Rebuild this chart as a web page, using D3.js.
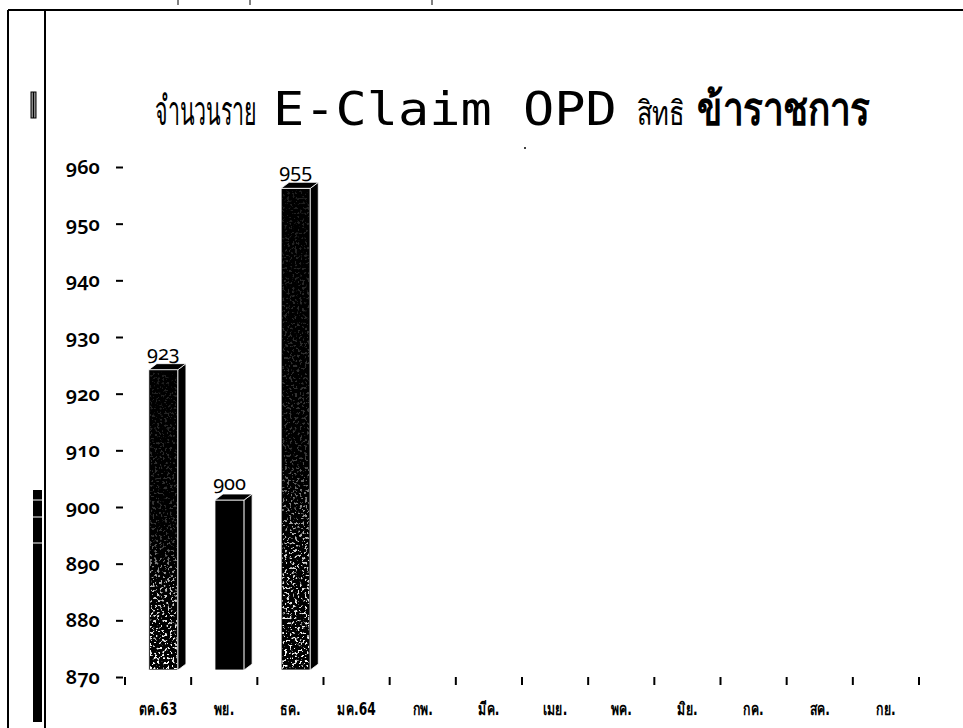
<!DOCTYPE html>
<html><head><meta charset="utf-8">
<script src="https://cdn.jsdelivr.net/npm/d3@7"></script>
<style>
html,body{margin:0;padding:0;background:#fff;}
svg{display:block;}
</style></head><body>
<svg id="chart" width="963" height="728"></svg>
<script>
// Monthly OPD E-Claim counts, fiscal year Oct 2020 – Sep 2021
const months = ["ตค.63","พย.","ธค.","มค.64","กพ.","มีค.","เมย.","พค.","มิย.","กค.","สค.","กย."];
const claims = [923, 900, 955, null, null, null, null, null, null, null, null, null];
const yTicks = [870, 880, 890, 900, 910, 920, 930, 940, 950, 960];

const svg = d3.select("#chart");
const defs = svg.append("defs");
const thaiFont = "Tahoma, 'DejaVu Sans', sans-serif";

// grainy speckle used on the printed columns
const f = defs.append("filter").attr("id","speckle").attr("x",0).attr("y",0).attr("width",1).attr("height",1);
f.append("feTurbulence").attr("type","fractalNoise").attr("baseFrequency","0.4").attr("numOctaves",2).attr("seed",7).attr("result","n");
f.append("feColorMatrix").attr("in","n").attr("type","matrix")
  .attr("values","0 0 0 0 1  0 0 0 0 1  0 0 0 0 1  0 0 0 12 -6.9").attr("result","w");
f.append("feComposite").attr("in","w").attr("in2","SourceGraphic").attr("operator","in");
const grad = defs.append("linearGradient").attr("id","fade").attr("x1",0).attr("y1",0).attr("x2",0).attr("y2",1);
grad.append("stop").attr("offset","0").attr("stop-color","#fff").attr("stop-opacity",0.12);
grad.append("stop").attr("offset","0.55").attr("stop-color","#fff").attr("stop-opacity",0.22);
grad.append("stop").attr("offset","0.75").attr("stop-color","#fff").attr("stop-opacity",0.8);
grad.append("stop").attr("offset","1").attr("stop-color","#fff").attr("stop-opacity",1);
const mask = defs.append("mask").attr("id","fadeMask").attr("maskContentUnits","objectBoundingBox");
mask.append("rect").attr("width",1).attr("height",1).attr("fill","url(#fade)");

// page frame
const frame = svg.append("g").attr("stroke","#000").attr("fill","none");
frame.append("line").attr("x1",8).attr("y1",10).attr("x2",963).attr("y2",10).attr("stroke-width",2);
frame.append("line").attr("x1",8).attr("y1",10).attr("x2",8).attr("y2",728).attr("stroke-width",2);
frame.append("line").attr("x1",45).attr("y1",10).attr("x2",45).attr("y2",728).attr("stroke-width",2);
[178, 250, 432].forEach(px => frame.append("line").attr("x1",px).attr("y1",0).attr("x2",px).attr("y2",5).attr("stroke-width",1));
svg.append("rect").attr("x",31).attr("y",92).attr("width",5).attr("height",26).attr("fill","#888").attr("stroke","#000").attr("stroke-width",1);
svg.append("line").attr("x1",33.5).attr("y1",92).attr("x2",33.5).attr("y2",118).attr("stroke","#000").attr("stroke-width",1);
svg.append("rect").attr("x",33).attr("y",490).attr("width",9).attr("height",232).attr("fill","#000");
[500, 517, 543].forEach(py => svg.append("line").attr("x1",33).attr("y1",py).attr("x2",42).attr("y2",py).attr("stroke","#fff").attr("stroke-width",1));
svg.append("circle").attr("cx",525).attr("cy",148).attr("r",1).attr("fill","#000");

// title, in four runs; each run is squeezed horizontally to its own width
const titleRuns = [
  {t:"จำนวนราย",   x:155, w:100, size:40, weight:"normal", font:thaiFont},
  {t:"E-Claim OPD", x:273, w:344, size:47, weight:"normal", font:"'DejaVu Sans Mono', 'Liberation Mono', monospace"},
  {t:"สิทธิ",        x:637, w:48,  size:34, weight:"normal", font:thaiFont},
  {t:"ข้าราชการ",    x:697, w:175, size:46, weight:"bold",   font:thaiFont}
];
svg.append("g").selectAll("text").data(titleRuns).join("text")
  .attr("font-family",d=>d.font).attr("font-size",d=>d.size)
  .attr("font-weight",d=>d.weight).attr("fill","#000").text(d=>d.t)
  .attr("transform", function(d) {
    const natural = this.getComputedTextLength();
    return `translate(${d.x},125) scale(${d.w / natural},1)`;
  });

// scales
const x = d3.scaleBand().domain(months).range([125, 919]).paddingInner(0).paddingOuter(0);
const y = d3.scaleLinear().domain([870, 960]).range([677, 167]);

// y axis: labels and dash ticks only
const yAxis = svg.append("g").attr("transform","translate(123,0)")
  .call(d3.axisLeft(y).tickValues(yTicks).tickSize(7).tickPadding(16).tickFormat(d3.format("d")));
yAxis.select(".domain").remove();
yAxis.selectAll(".tick line").attr("stroke","#000").attr("stroke-width",2);
yAxis.selectAll(".tick text")
  .attr("font-family","'Noto Sans', sans-serif").attr("font-size",20).attr("font-weight",600)
  .style("font-variant-numeric","oldstyle-nums").attr("fill","#000");

// x axis: short ticks between months, labels below
const xAxis = svg.append("g").attr("transform","translate(0,678)");
const edges = months.map(m => x(m)).concat([x.range()[1]]);
xAxis.selectAll("line.sep").data(edges).join("line").attr("class","sep")
  .attr("x1",d=>d).attr("x2",d=>d)
  .attr("y1",-1).attr("y2",7).attr("stroke","#000").attr("stroke-width",2);
xAxis.selectAll("text").data(months).join("text")
  .attr("transform",d => `translate(${x(d) + x.bandwidth()/2},37) scale(0.72,1)`)
  .attr("text-anchor","middle")
  .attr("font-family",thaiFont).attr("font-size",17).attr("font-weight","bold")
  .attr("fill","#000").text(d => d);

// 3-D columns
const bw = x.bandwidth();
const lift = 7, dx = 8, dy = 6;
const grainy = [true, false, true];
const bars = months.map((m,i) => ({m, v: claims[i], i})).filter(d => d.v != null);
const g = svg.append("g");
bars.forEach(d => {
  const x0 = x(d.m) + bw*0.36, w = bw*0.44;
  const top = y(d.v) - lift, bot = y(870) - lift;
  const bar = g.append("g");
  bar.append("rect").attr("x",x0).attr("y",top).attr("width",w).attr("height",bot-top)
    .attr("fill","#000").attr("stroke","#fff").attr("stroke-width",0.8);
  bar.append("polygon").attr("points",[[x0+w,top],[x0+w+dx,top-dy],[x0+w+dx,bot-dy],[x0+w,bot]].join(" "))
    .attr("fill","#000").attr("stroke","#fff").attr("stroke-width",0.8);
  bar.append("polygon").attr("points",[[x0,top],[x0+dx,top-dy],[x0+w+dx,top-dy],[x0+w,top]].join(" "))
    .attr("fill","#000").attr("stroke","#fff").attr("stroke-width",0.8);
  if (grainy[d.i]) {
    bar.append("rect").attr("x",x0+1).attr("y",top+2).attr("width",w-2).attr("height",bot-top-3)
      .attr("fill","#000").attr("filter","url(#speckle)").attr("mask","url(#fadeMask)");
  }
  g.append("text").attr("x",x0 + w/2).attr("y",top - dy - 4).attr("text-anchor","middle")
    .attr("font-family","'Noto Sans', sans-serif").attr("font-size",20)
    .style("font-variant-numeric","oldstyle-nums").attr("fill","#000").text(d.v);
});
</script>
</body></html>
